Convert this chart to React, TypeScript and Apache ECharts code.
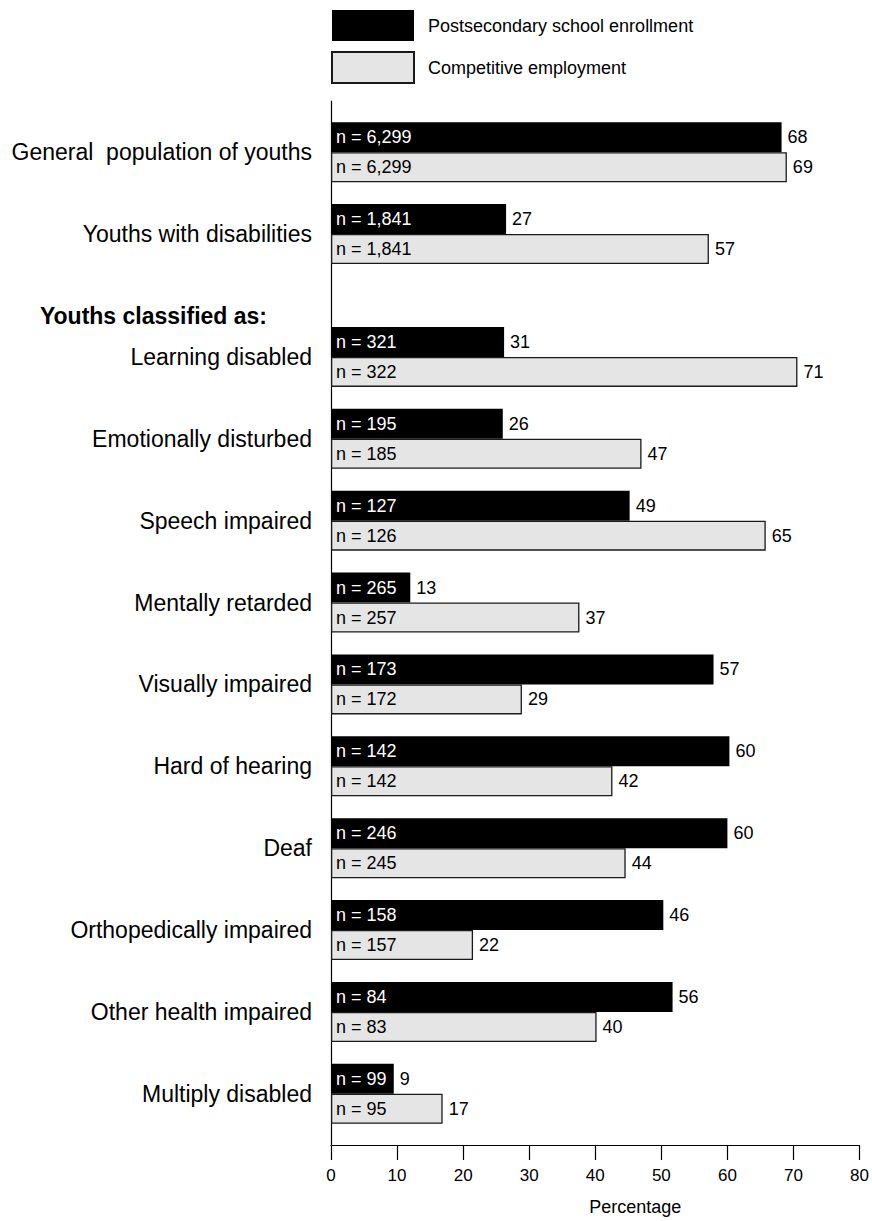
import React, { useEffect, useRef } from "react";
import * as echarts from "echarts";

// ---- data ----
const seriesNames = ["Postsecondary school enrollment", "Competitive employment"];
const rowNames = [
  "General  population of youths",
  "Youths with disabilities",
  "Learning disabled",
  "Emotionally disturbed",
  "Speech impaired",
  "Mentally retarded",
  "Visually impaired",
  "Hard of hearing",
  "Deaf",
  "Orthopedically impaired",
  "Other health impaired",
  "Multiply disabled",
];
const headerLabel = "Youths classified as:";
// printed value labels
const enrollment = [68, 27, 31, 26, 49, 13, 57, 60, 60, 46, 56, 9];
const employment = [69, 57, 71, 47, 65, 37, 29, 42, 44, 22, 40, 17];
// bar lengths as drawn in the source picture
const enrollmentDrawn = [68.2, 26.5, 26.2, 26, 45.2, 12.0, 57.9, 60.3, 60.0, 50.3, 51.7, 9.5];
const employmentDrawn = [69.0, 57.2, 70.6, 47, 65.8, 37.6, 28.9, 42.6, 44.6, 21.5, 40.2, 16.9];
const enrollmentN = ["6,299", "1,841", "321", "195", "127", "265", "173", "142", "246", "158", "84", "99"];
const employmentN = ["6,299", "1,841", "322", "185", "126", "257", "172", "142", "245", "157", "83", "95"];
const xTickMin = 0;
const xTickMax = 80;
const xTickStep = 10;
const xAxisName = "Percentage";

// ---- layout helpers (quarter-row slots on the category axis) ----
const SLOT_COUNT = 51;
const HEADER_SLOT = 10;
const rowSlot = (i: number) => (i < 2 ? 2 + 4 * i : 4 + 4 * i);

const FONT = "'Liberation Sans', Arial, Helvetica, sans-serif";

export default function App() {
  const ref = useRef<HTMLDivElement>(null);

  useEffect(() => {
    if (!ref.current) return;
    const chart = echarts.init(ref.current, null, { renderer: "svg" });

    const slotIds: string[] = [];
    const slotLabels: string[] = [];
    for (let s = 0; s < SLOT_COUNT; s++) {
      slotIds.push("slot" + s);
      slotLabels.push("");
    }
    slotLabels[HEADER_SLOT] = headerLabel;
    rowNames.forEach((n, i) => (slotLabels[rowSlot(i)] = n));

    const mkBars = (vals: number[], ns: string[]) => {
      const arr: any[] = new Array(SLOT_COUNT).fill(null);
      vals.forEach((v, i) => {
        arr[rowSlot(i)] = { value: v, lbl: "n = " + ns[i] };
      });
      return arr;
    };
    const mkLabels = (vals: number[]) => {
      const arr: any[] = new Array(SLOT_COUNT).fill(null);
      vals.forEach((v, i) => {
        arr[rowSlot(i)] = { value: 0, lbl: String(v) };
      });
      return arr;
    };

    const common = {
      type: "bar",
      barWidth: 30,
      barGap: "0%",
      barCategoryGap: "0%",
    };
    const nLabel = (color: string) => ({
      show: true,
      position: "insideLeft",
      distance: 5,
      color,
      fontSize: 18,
      fontFamily: FONT,
      formatter: (p: any) => p.data.lbl,
    });
    const vLabel = {
      show: true,
      position: "right",
      distance: 6,
      color: "#000",
      fontSize: 18,
      fontFamily: FONT,
      formatter: (p: any) => p.data.lbl,
    };

    const option: any = {
      animation: false,
      backgroundColor: "#ffffff",
      textStyle: { fontFamily: FONT },
      legend: {
        data: seriesNames,
        orient: "vertical",
        left: 331,
        top: 10,
        padding: 0,
        itemWidth: 82,
        itemHeight: 31,
        itemGap: 10,
        icon: "rect",
        selectedMode: false,
        textStyle: { fontSize: 18, color: "#000", fontFamily: FONT, padding: [0, 0, 0, 9] },
      },
      grid: { left: 331, right: 12, top: 101, height: 1050 },
      xAxis: {
        type: "value",
        min: xTickMin,
        max: xTickMax,
        interval: xTickStep,
        splitLine: { show: false },
        axisLine: { show: true, lineStyle: { color: "#000", width: 1.2 } },
        axisTick: { show: true, length: 15, lineStyle: { color: "#000", width: 1.2 } },
        axisLabel: { fontSize: 17, color: "#000", margin: 22, fontFamily: FONT },
        name: xAxisName,
        nameLocation: "middle",
        nameGap: 53,
        nameTextStyle: { fontSize: 18, color: "#000", fontFamily: FONT, padding: [0, 0, 0, 80] },
      },
      yAxis: {
        type: "category",
        inverse: true,
        data: slotIds,
        axisLine: { show: true, lineStyle: { color: "#000", width: 1.2 } },
        axisTick: { show: false },
        splitLine: { show: false },
        axisLabel: {
          interval: 0,
          fontSize: 23,
          color: "#000",
          margin: 19,
          fontFamily: FONT,
          formatter: (_v: string, idx: number) => {
            const t = slotLabels[idx];
            if (!t) return "";
            if (t === headerLabel) return "{h|" + t + "}";
            return t;
          },
          rich: {
            h: { fontWeight: "bold", fontSize: 23, color: "#000", fontFamily: FONT, padding: [0, 45, 0, 0] },
          },
        },
      },
      series: [
        {
          ...common,
          name: seriesNames[0],
          stack: "enroll",
          data: mkBars(enrollmentDrawn, enrollmentN),
          itemStyle: { color: "#000000" },
          label: nLabel("#ffffff"),
        },
        {
          ...common,
          name: "enrollValue",
          stack: "enroll",
          data: mkLabels(enrollment),
          itemStyle: { color: "rgba(0,0,0,0)" },
          label: vLabel,
        },
        {
          ...common,
          name: seriesNames[1],
          stack: "employ",
          data: mkBars(employmentDrawn, employmentN),
          itemStyle: { color: "#e5e5e5", borderColor: "#1a1a1a", borderWidth: 1.3 },
          label: nLabel("#000000"),
        },
        {
          ...common,
          name: "employValue",
          stack: "employ",
          data: mkLabels(employment),
          itemStyle: { color: "rgba(0,0,0,0)" },
          label: vLabel,
        },
      ],
    };

    chart.setOption(option);
    return () => chart.dispose();
  }, []);

  return (
    <div
      ref={ref}
      style={{ position: "absolute", left: 0, top: 0, width: 872, height: 1221, background: "#fff" }}
    />
  );
}
